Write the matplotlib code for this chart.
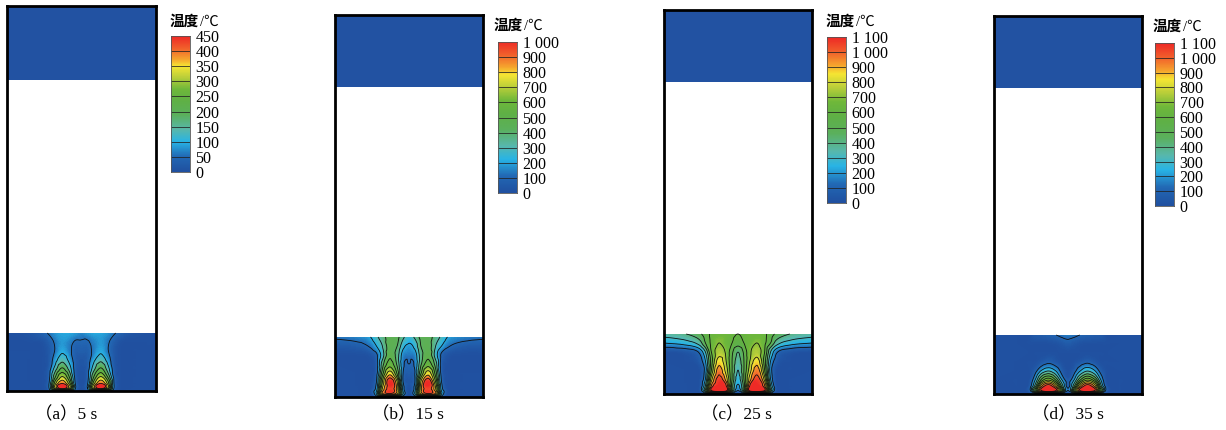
import numpy as np
import matplotlib
matplotlib.use("Agg")
import matplotlib.pyplot as plt
import matplotlib.tri as mtri
from matplotlib.colors import LinearSegmentedColormap

W, H = 1226, 430
SERIF = ['Liberation Serif', 'Noto Sans CJK SC']

# half of each layer, the other half is mirrored
x_half = [0, .15, .24, .28, .32, .37, .42, .46, .5]
y_rows = [0, .05, .14, .25, .40, .55, .70, .85, 1]

temp_a = [
    [0, 0, 0, 0, 10, 30, 10, 0, 0],
    [0, 0, 0, 40, 280, 450, 300, 50, 0],
    [0, 0, 0, 40, 260, 390, 260, 40, 0],
    [0, 0, 0, 30, 180, 300, 190, 30, 5],
    [0, 0, 0, 20, 110, 200, 120, 25, 10],
    [0, 0, 0, 15, 70, 130, 80, 25, 15],
    [0, 0, 0, 15, 50, 90, 60, 30, 30],
    [0, 0, 5, 25, 55, 80, 65, 45, 45],
    [0, 10, 35, 55, 75, 90, 90, 80, 70],
]
temp_b = [
    [0, 0, 0, 0, 40, 80, 40, 0, 0],
    [0, 0, 0, 200, 750, 850, 700, 200, 0],
    [0, 0, 0, 150, 700, 950, 750, 150, 10],
    [0, 0, 0, 100, 600, 1000, 700, 100, 30],
    [0, 0, 0, 60, 450, 750, 480, 100, 60],
    [0, 0, 0, 50, 350, 550, 380, 120, 100],
    [0, 0, 20, 80, 250, 480, 350, 150, 130],
    [40, 60, 120, 200, 300, 450, 400, 230, 180],
    [120, 150, 200, 280, 350, 450, 430, 320, 250],
]
temp_c = [
    [0, 0, 0, 0, 60, 100, 60, 0, 0],
    [0, 0, 0, 350, 950, 1100, 1000, 400, 80],
    [0, 0, 0, 300, 900, 1100, 1000, 450, 180],
    [0, 0, 0, 200, 750, 1050, 850, 500, 250],
    [0, 0, 0, 150, 600, 950, 750, 500, 300],
    [0, 0, 50, 200, 550, 850, 700, 500, 350],
    [0, 30, 120, 300, 600, 750, 680, 520, 400],
    [200, 250, 350, 500, 620, 700, 650, 600, 550],
    [350, 400, 480, 550, 620, 650, 650, 620, 600],
]
temp_d = [
    [0, 0, 0, 0, 60, 100, 60, 0, 0],
    [0, 0, 50, 500, 950, 1100, 950, 500, 80],
    [0, 0, 30, 350, 850, 1050, 800, 350, 60],
    [0, 0, 0, 200, 500, 650, 450, 180, 40],
    [0, 0, 0, 60, 200, 280, 180, 50, 0],
    [0, 0, 0, 0, 30, 70, 30, 0, 0],
    [0, 0, 0, 0, 0, 0, 0, 0, 0],
    [0, 0, 0, 0, 0, 0, 10, 30, 55],
    [0, 0, 0, 50, 60, 80, 100, 130, 150],
]

ticks_a = [0, 50, 100, 150, 200, 250, 300, 350, 400, 450]
ticks_b = [0, 100, 200, 300, 400, 500, 600, 700, 800, 900, 1000]
ticks_c = [0, 100, 200, 300, 400, 500, 600, 700, 800, 900, 1000, 1100]
ticks_d = ticks_c

captions = ['（a）5 s', '（b）15 s', '（c）25 s', '（d）35 s']

# left, right, top, bottom, band bottom, layer top
frames = [(7, 156, 6, 391, 80, 333),
          (335, 483, 15, 397, 87, 337),
          (664, 812, 10, 394, 82, 334),
          (994, 1142, 16, 394, 88, 335)]
# left, right, top, bottom
bars = [(171, 190, 36, 172), (498, 517, 42, 193),
        (827, 846, 37, 203), (1155, 1174, 43, 206)]
title_x = [170, 494, 826, 1153]
title_y = [22, 26, 22, 27]
caption_x = [66, 408, 736, 1068]

BLUE = '#2252a2'
cmap = LinearSegmentedColormap.from_list('temp', [
    (0, '#2050a0'), (.11, '#2268b4'), (.22, '#28b4e6'), (.31, '#58b8ac'),
    (.42, '#5bb05c'), (.52, '#5fb046'), (.61, '#6fb83a'), (.70, '#bccf3a'),
    (.78, '#f6e633'), (.83, '#f6a62e'), (.91, '#f2622c'), (1, '#ee2a26')])


def add_axes(left, right, top, bottom):
    return plt.gcf().add_axes([left / W, 1 - bottom / H, (right - left) / W, (bottom - top) / H])


def fmt(v):
    return f"{v:,}".replace(",", " ")


def draw_panel(frame, temp, ticks):
    left, right, top, bottom, band, layer = frame
    ax = add_axes(left, right, top, bottom)
    ax.set_xlim(0, 1)
    ax.set_ylim(0, 1 + (layer - top) / (bottom - layer))
    ax.axhspan((bottom - band) / (bottom - layer), ax.get_ylim()[1], color=BLUE, lw=0)

    xs = np.array(x_half + [1 - v for v in x_half[-2::-1]])
    z = np.array([row + row[-2::-1] for row in temp], dtype=float)
    gx, gy = np.meshgrid(xs, y_rows)
    tri = mtri.Triangulation(gx.ravel(), gy.ravel())
    interp = mtri.CubicTriInterpolator(tri, z.ravel(), kind='geom')
    fine, fine_z = mtri.UniformTriRefiner(tri).refine_field(z.ravel(), triinterpolator=interp, subdiv=3)

    vmax = ticks[-1]
    shades = np.linspace(0, vmax, 120)
    ax.tricontourf(fine, fine_z, levels=shades, cmap=cmap, extend='both')
    ax.tricontour(fine, fine_z, levels=ticks[1:-1], colors='#101010', linewidths=0.6)

    ax.set_xticks([])
    ax.set_yticks([])
    for s in ax.spines.values():
        s.set_linewidth(2)


def draw_bar(box, ticks):
    ax = add_axes(*box)
    vals = np.linspace(0, ticks[-1], 300).reshape(-1, 1)
    ax.imshow(vals, origin='lower', aspect='auto', cmap=cmap,
              extent=[0, 1, 0, ticks[-1]], interpolation='bilinear')
    ax.hlines(ticks[1:-1], 0, 1, color='#222222', lw=0.7, alpha=0.8)
    ax.set_xticks([])
    ax.yaxis.tick_right()
    ax.set_yticks(ticks)
    ax.set_yticklabels([fmt(t) for t in ticks], family=SERIF, fontsize=11.5)
    ax.tick_params(axis='y', length=0, pad=4)
    for s in ax.spines.values():
        s.set_linewidth(0.6)
        s.set_color('#555555')


fig = plt.figure(figsize=(W / 100, H / 100), dpi=100)

panels = [(temp_a, ticks_a), (temp_b, ticks_b), (temp_c, ticks_c), (temp_d, ticks_d)]
for i, (temp, ticks) in enumerate(panels):
    draw_panel(frames[i], temp, ticks)
    draw_bar(bars[i], ticks)
    fig.text(title_x[i] / W, 1 - title_y[i] / H, '温度', family=SERIF, fontsize=10.5,
             fontweight='bold', va='center')
    fig.text((title_x[i] + 30) / W, 1 - title_y[i] / H, '/℃', family=SERIF, fontsize=10.5,
             va='center')
    fig.text(caption_x[i] / W, 1 - 415 / H, captions[i], family=SERIF, fontsize=12.5,
             ha='center', va='center')

fig.savefig('out.png', dpi=100)
